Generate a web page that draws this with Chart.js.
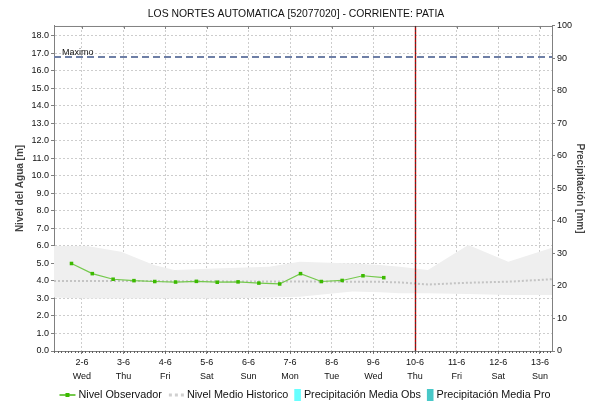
<!DOCTYPE html>
<html>
<head>
<meta charset="utf-8">
<script src="https://cdn.jsdelivr.net/npm/chart.js@4.4.1/dist/chart.umd.min.js"></script>
<style>
  html, body { margin: 0; padding: 0; background: #fff; }
  #wrap { width: 592px; height: 403px; }
</style>
</head>
<body>
<div id="wrap"><canvas id="chart"></canvas></div>
<script>
// Labels
const chartTitle = "LOS NORTES AUTOMATICA [52077020] - CORRIENTE: PATIA";
const dayLabels = ["2-6", "3-6", "4-6", "5-6", "6-6", "7-6", "8-6", "9-6", "10-6", "11-6", "12-6", "13-6"];
const weekDays = ["Wed", "Thu", "Fri", "Sat", "Sun", "Mon", "Tue", "Wed", "Thu", "Fri", "Sat", "Sun"];
const levelTicks = [0, 1, 2, 3, 4, 5, 6, 7, 8, 9, 10, 11, 12, 13, 14, 15, 16, 17, 18];

// x is counted in days from 2-6 00:00
const xMin = -0.67;
const xMax = 11.29;
const todayX = 8;          // 10-6
const maxLevel = 16.8;     // Maximo

// observed level, one reading every 12 h
const obsDays = [-0.25, 0.25, 0.75, 1.25, 1.75, 2.25, 2.75, 3.25, 3.75, 4.25, 4.75, 5.25, 5.75, 6.25, 6.75, 7.25];
const obsLevel = [5.0, 4.42, 4.1, 4.02, 3.97, 3.94, 3.98, 3.93, 3.95, 3.88, 3.83, 4.42, 3.97, 4.03, 4.3, 4.19];

// historic range and mean
const histDays = [-0.67, 0.12, 0.94, 1.73, 2.22, 3.18, 4.5, 5.23, 6.5, 7.16, 7.64, 8.31, 9.28, 10.24, 11.29];
const histHigh = [6.0, 6.0, 5.67, 4.91, 4.63, 4.72, 4.82, 5.1, 5.0, 4.91, 4.82, 4.63, 6.05, 5.1, 5.9];
const histLow = [3.05, 3.0, 3.0, 3.0, 3.0, 3.0, 3.05, 3.1, 3.4, 3.35, 3.3, 3.3, 3.25, 3.2, 3.2];
const histMean = [4.0, 4.0, 4.0, 4.0, 3.98, 3.98, 3.97, 3.97, 3.96, 3.95, 3.92, 3.8, 3.9, 3.96, 4.1];

// rainfall (no values in this period)
const rainObs = [];
const rainPro = [];

const pts = (xs, ys) => xs.map((x, i) => ({ x: x, y: ys[i] }));
const FONT = "'Liberation Sans', Arial, sans-serif";
const gridColor = "#cdcdcd";
const axisColor = "#808080";

// frame, today marker, Maximo label and legend
const extras = {
  id: "extras",
  afterDatasetsDraw(chart) {
    const { ctx, chartArea: a, scales } = chart;
    const x = scales.x, y = scales.y;
    ctx.save();

    // top border with day ticks
    ctx.strokeStyle = axisColor;
    ctx.lineWidth = 1;
    ctx.beginPath();
    ctx.moveTo(a.left, a.top + 0.5);
    ctx.lineTo(a.right, a.top + 0.5);
    dayLabels.forEach((d, i) => {
      const px = Math.round(x.getPixelForValue(i)) + 0.5;
      ctx.moveTo(px, a.top);
      ctx.lineTo(px, a.top + 3);
    });
    ctx.stroke();

    // two-hourly ticks under the time axis
    ctx.strokeStyle = "#606060";
    ctx.beginPath();
    for (let h = Math.ceil(xMin * 12); h <= xMax * 12; h++) {
      const px = Math.round(x.getPixelForValue(h / 12)) + 0.5;
      ctx.moveTo(px, a.bottom);
      ctx.lineTo(px, a.bottom + 2);
    }
    ctx.stroke();

    // today marker
    const tx = Math.round(x.getPixelForValue(todayX)) + 0.5;
    ctx.strokeStyle = "#c00000";
    ctx.lineWidth = 1.4;
    ctx.beginPath();
    ctx.moveTo(tx, a.top);
    ctx.lineTo(tx, a.bottom);
    ctx.stroke();
    ctx.strokeStyle = "#3a3a3a";
    ctx.lineWidth = 1;
    ctx.setLineDash([2, 2]);
    ctx.beginPath();
    ctx.moveTo(tx, a.top);
    ctx.lineTo(tx, a.bottom);
    ctx.stroke();
    ctx.setLineDash([]);

    // Maximo label
    ctx.fillStyle = "#111";
    ctx.font = "9px " + FONT;
    ctx.textBaseline = "alphabetic";
    ctx.fillText("Maximo", a.left + 8, y.getPixelForValue(maxLevel) - 2);

    // legend
    const items = chart.data.datasets.filter(d => d.legendIcon);
    ctx.font = "10.8px " + FONT;
    const iconW = { line: 16, dash: 16, box: 6.6 };
    const gap = 3, spacing = 6;
    let total = 0;
    items.forEach((d, i) => {
      total += iconW[d.legendIcon] + gap + ctx.measureText(d.label).width;
      if (i < items.length - 1) total += spacing;
    });
    let lx = (a.left + a.right) / 2 - total / 2 + 2;
    const ly = 395;
    items.forEach(d => {
      const w = iconW[d.legendIcon];
      if (d.legendIcon === "line") {
        ctx.strokeStyle = d.borderColor;
        ctx.lineWidth = 2;
        ctx.beginPath();
        ctx.moveTo(lx, ly);
        ctx.lineTo(lx + w, ly);
        ctx.stroke();
        ctx.fillStyle = d.pointBackgroundColor;
        ctx.fillRect(lx + w / 2 - 2, ly - 2, 4, 4);
      } else if (d.legendIcon === "dash") {
        ctx.fillStyle = "#d0d0d0";
        for (let k = 0; k < 3; k++) ctx.fillRect(lx + 1 + k * 6, ly - 1.5, 3, 3);
      } else {
        ctx.fillStyle = d.backgroundColor;
        ctx.fillRect(lx, ly - 6, w, 12);
      }
      lx += w + gap;
      ctx.fillStyle = "#111";
      ctx.textBaseline = "middle";
      ctx.fillText(d.label, lx, ly);
      lx += ctx.measureText(d.label).width + spacing;
    });
    ctx.restore();
  }
};

new Chart(document.getElementById("chart"), {
  type: "line",
  data: {
    datasets: [
      {
        label: "Nivel Observador",
        legendIcon: "line",
        data: pts(obsDays, obsLevel),
        borderColor: "#74c94c",
        borderWidth: 1.2,
        pointStyle: "rect",
        pointRadius: 2.5,
        pointBackgroundColor: "#3cba00",
        pointBorderWidth: 0,
        order: 1
      },
      {
        label: "Nivel Medio Historico",
        legendIcon: "dash",
        data: pts(histDays, histMean),
        borderColor: "#c4c4c4",
        borderWidth: 2,
        borderDash: [2, 2],
        pointRadius: 0,
        order: 4
      },
      {
        type: "bar",
        label: "Precipitación Media Obs",
        legendIcon: "box",
        yAxisID: "y1",
        data: rainObs,
        backgroundColor: "#66ffff",
        order: 2
      },
      {
        type: "bar",
        label: "Precipitación Media Pro",
        legendIcon: "box",
        yAxisID: "y1",
        data: rainPro,
        backgroundColor: "#48c8c8",
        order: 3
      },
      {
        label: "hist-high",
        data: pts(histDays, histHigh),
        borderWidth: 0,
        pointRadius: 0,
        backgroundColor: "#efefef",
        fill: "+1",
        order: 9
      },
      {
        label: "hist-low",
        data: pts(histDays, histLow),
        borderWidth: 0,
        pointRadius: 0,
        fill: false,
        order: 9
      },
      {
        label: "Maximo",
        data: [{ x: xMin, y: maxLevel }, { x: xMax, y: maxLevel }],
        borderColor: "#6e7fa6",
        borderWidth: 2,
        borderDash: [7, 4],
        pointRadius: 0,
        order: 5
      }
    ]
  },
  options: {
    responsive: true,
    maintainAspectRatio: false,
    animation: false,
    layout: { padding: 0 },
    plugins: {
      legend: { display: false },
      tooltip: { enabled: false },
      title: {
        display: true,
        text: chartTitle,
        color: "#111",
        font: { family: FONT, size: 10.4, weight: "normal" },
        padding: { top: 7.5, bottom: 6 }
      }
    },
    scales: {
      x: {
        type: "linear",
        min: xMin,
        max: xMax,
        offset: false,
        afterBuildTicks: s => { s.ticks = dayLabels.map((d, i) => ({ value: i })); },
        afterFit: s => { s.height = 52; },
        ticks: {
          autoSkip: false,
          maxRotation: 0,
          padding: 2,
          color: "#111",
          font: { family: FONT, size: 9, lineHeight: 1.55 },
          callback: v => [dayLabels[v], weekDays[v]]
        },
        grid: { offset: false, color: gridColor, tickLength: 3, tickColor: axisColor, tickBorderDash: [] },
        border: { color: axisColor, dash: [2, 2] }
      },
      y: {
        position: "left",
        min: 0,
        max: 18.57,
        afterBuildTicks: s => { s.ticks = levelTicks.map(v => ({ value: v })); },
        afterFit: s => { s.width = 54; },
        ticks: {
          padding: 2,
          color: "#111",
          font: { family: FONT, size: 9 },
          callback: v => v.toFixed(1)
        },
        grid: { color: gridColor, tickLength: 3, tickColor: axisColor, tickBorderDash: [] },
        border: { color: axisColor, dash: [2, 2] },
        title: {
          display: true,
          text: "Nivel del Agua [m]",
          color: "#444",
          font: { family: FONT, size: 10, weight: "bold" },
          padding: { top: 14, bottom: 0 }
        }
      },
      y1: {
        position: "right",
        min: 0,
        max: 100,
        afterFit: s => { s.width = 40; },
        ticks: {
          stepSize: 10,
          padding: 2,
          color: "#111",
          font: { family: FONT, size: 9 }
        },
        grid: { drawOnChartArea: false, tickLength: 3, tickColor: axisColor },
        border: { color: axisColor },
        title: {
          display: true,
          text: "Precipitación [mm]",
          color: "#444",
          font: { family: FONT, size: 10, weight: "bold" },
          padding: { top: 6, bottom: 0 }
        }
      }
    }
  },
  plugins: [extras]
});
</script>
</body>
</html>
